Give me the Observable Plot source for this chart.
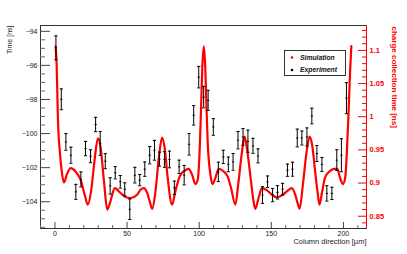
<!DOCTYPE html>
<html><head><meta charset="utf-8">
<script src="https://cdn.jsdelivr.net/npm/d3@7"></script>
<script src="https://cdn.jsdelivr.net/npm/@observablehq/plot@0.6"></script>
<style>body{margin:0;background:#fff}</style>
</head><body><div id="chart"></div>
<script>
// Experiment: time [ns] vs column position [µm]
const expX = [0.7,4.4,7.6,11.1,14.5,18.0,21.2,24.7,28.2,31.4,34.9,38.3,41.8,45.3,48.4,51.9,55.4,58.8,62.3,65.7,69.0,72.5,75.9,79.4,82.8,86.1,89.6,93.0,96.2,99.7,103.1,106.2,109.8,113.3,116.7,120.2,123.5,126.9,130.4,133.8,137.3,140.8,143.9,147.4,150.9,154.3,157.8,161.2,164.7,168.0,171.2,174.7,178.1,181.6,185.1,188.5,192.0,195.4,198.6,202.1];
const expY = [-94.97,-97.99,-100.49,-101.27,-103.42,-102.69,-100.88,-101.33,-99.47,-100.58,-101.62,-103.07,-102.30,-102.83,-103.27,-104.44,-102.44,-102.73,-102.09,-101.27,-100.98,-101.5,-101.52,-101.52,-103.18,-101.95,-102.44,-100.63,-98.93,-96.69,-97.86,-98.05,-99.61,-102.25,-101.37,-101.81,-101.66,-100.39,-100.2,-100.45,-100.72,-101.31,-103.61,-102.83,-103.61,-103.45,-103.26,-102.15,-102.09,-100.26,-100.26,-100.2,-98.97,-101.17,-101.81,-103.51,-103.51,-101.56,-101.27,-97.92];
const expErr = [0.70,0.61,0.49,0.47,0.44,0.44,0.42,0.38,0.42,0.70,0.44,0.48,0.36,0.37,0.38,0.60,0.46,0.33,0.42,0.51,0.58,0.41,0.46,0.49,0.39,0.39,0.57,0.63,0.57,0.63,0.63,0.59,0.49,0.57,0.39,0.43,0.49,0.51,0.49,0.65,0.44,0.41,0.49,0.34,0.39,0.39,0.34,0.36,0.41,0.52,0.41,0.53,0.46,0.47,0.41,0.45,0.36,0.61,0.97,0.91];

// Simulation: charge collection time [ns] vs column position [µm]
const simX = [0.5,1.2,2.1,3.5,4.6,6.2,8.6,10.9,14.3,17.8,20.6,22.8,25.2,27.5,29.8,31.6,33.9,36.3,38.5,41.5,45.5,48.9,52.4,57.0,59.3,61.6,63.9,65.7,67.4,69.7,72.0,74.3,76.1,78.2,81.2,83.5,86.5,89.8,92.7,95.1,97.4,99.0,100.1,101.3,102.2,103.2,104.2,105.1,105.9,107.8,109.3,111.2,113.5,117.0,119.7,122.1,125.1,127.3,129.7,131.5,133.1,135.4,137.7,138.9,141.2,143.5,147.0,150.4,153.9,157.4,160.8,164.3,166.6,168.2,169.6,171.9,174.2,176.5,178.3,180.4,182.0,183.4,185.1,187.3,190.3,193.6,195.8,197.7,199.6,201.2,202.4,203.5,204.6,205.5];
const simT = [1.106,1.0775,0.995,0.945,0.92,0.901,0.915,0.9225,0.9175,0.905,0.8825,0.8675,0.89,0.935,0.9675,0.955,0.905,0.86,0.8725,0.8925,0.885,0.879,0.8775,0.8825,0.89,0.8925,0.8855,0.8725,0.861,0.8875,0.9375,0.9685,0.9525,0.9075,0.8675,0.8875,0.91,0.9185,0.9215,0.9125,0.8985,0.905,0.9375,1.0125,1.076,1.106,1.076,1.0125,0.9625,0.9125,0.8985,0.9075,0.9215,0.9175,0.91,0.8925,0.8675,0.9025,0.9475,0.97,0.9525,0.9125,0.8725,0.861,0.8775,0.8925,0.889,0.8825,0.8785,0.8815,0.8875,0.8925,0.8825,0.87,0.8615,0.8975,0.9425,0.97,0.9575,0.9175,0.8875,0.8675,0.885,0.9085,0.9175,0.9215,0.9215,0.9075,0.8985,0.9075,0.9475,1.0025,1.0675,1.1065];

const xTicks = [0,50,100,150,200];
const leftTicks = [-104,-102,-100,-98,-96,-94];
const rightTicks = [0.85,0.9,0.95,1,1.05,1.1];
const legendLabels = ["Simulation","Experiment"];
const legendColors = ["#ff0000","#000000"];

const xDomain = [-10, 216];
const yDomain = [-105.57, -93.66];
const rDomain = [0.8315, 1.1375];
const R = v => yDomain[0] + (v - rDomain[0]) / (rDomain[1] - rDomain[0]) * (yDomain[1] - yDomain[0]);
const Rinv = y => rDomain[0] + (y - yDomain[0]) / (yDomain[1] - yDomain[0]) * (rDomain[1] - rDomain[0]);

const exp = expX.map((x, i) => ({x, y: expY[i], lo: expY[i] - expErr[i], hi: expY[i] + expErr[i]}));
const sim = simX.map((x, i) => ({x, y: R(simT[i])}));

const xMinor = d3.range(-10, 216, 10).filter(v => v % 50 !== 0);
const leftMinor = d3.range(-105.5, -93.6, 0.5).filter(v => v % 2 !== 0);
const rightMinor = d3.range(84, 114, 1).map(v => v / 100).filter(v => Math.round(v * 100) % 5 !== 0).map(R);

const cap = {draw(ctx) { ctx.moveTo(-1.6, 0); ctx.lineTo(1.6, 0); }};
const mid = {draw(ctx) { ctx.moveTo(-1.1, 0); ctx.lineTo(1.1, 0); }};
const font = "'Liberation Sans', Arial, Helvetica, sans-serif";

const chart = Plot.plot({
  width: 407, height: 254,
  marginLeft: 40, marginRight: 41, marginTop: 25, marginBottom: 26,
  style: {fontFamily: font, fontSize: "7px", background: "white", overflow: "visible"},
  x: {domain: xDomain},
  y: {domain: yDomain},
  marks: [
    Plot.frame({stroke: "#333", strokeWidth: 1}),
    // left axis
    Plot.axisY(leftTicks, {anchor: "left", tickSize: 10, insetLeft: 10, text: null, label: null, stroke: "#444"}),
    Plot.axisY(leftMinor, {anchor: "left", tickSize: 5, insetLeft: 5, text: null, label: null, stroke: "#666"}),
    Plot.axisY(leftTicks, {anchor: "left", tickSize: 0, tickPadding: 3, label: null, fill: "#222", fontSize: 7}),
    // bottom axis
    Plot.axisX(xTicks, {anchor: "bottom", tickSize: 6, insetBottom: 6, text: null, label: null, stroke: "#444"}),
    Plot.axisX(xMinor, {anchor: "bottom", tickSize: 3, insetBottom: 3, text: null, label: null, stroke: "#666"}),
    Plot.axisX(xTicks, {anchor: "bottom", tickSize: 0, tickPadding: 2.5, label: null, fill: "#222", fontSize: 7}),
    // right axis (charge collection time)
    Plot.ruleX([xDomain[1]], {stroke: "#ff0000", strokeWidth: 1}),
    Plot.axisY(rightTicks.map(R), {anchor: "right", tickSize: 9, insetRight: 9, text: null, label: null, stroke: "#ff0000"}),
    Plot.axisY(rightMinor, {anchor: "right", tickSize: 5, insetRight: 5, text: null, label: null, stroke: "#ff0000"}),
    Plot.axisY(rightTicks.map(R), {anchor: "right", tickSize: 0, tickPadding: 3, label: null,
      tickFormat: d => String(Math.round(Rinv(d) * 100) / 100), fill: "#ff0000", fontWeight: "bold", fontSize: 7.5}),
    // simulation curve
    Plot.line(sim, {x: "x", y: "y", stroke: "#ff0000", strokeWidth: 2.2, curve: "monotone-x"}),
    // experiment with error bars
    Plot.ruleX(exp, {x: "x", y1: "lo", y2: "hi", stroke: "#000", strokeWidth: 1}),
    Plot.dot(exp, {x: "x", y: "lo", symbol: cap, stroke: "#000", strokeWidth: 1, r: 2}),
    Plot.dot(exp, {x: "x", y: "hi", symbol: cap, stroke: "#000", strokeWidth: 1, r: 2}),
    Plot.dot(exp, {x: "x", y: "y", symbol: mid, stroke: "#000", strokeWidth: 1, r: 2}),
    // axis titles
    Plot.text(["Time [ns]"], {frameAnchor: "top-left", dx: -33, dy: 0, rotate: -90, textAnchor: "end", fill: "#222", fontSize: 7}),
    Plot.text(["charge collection time [ns]"], {frameAnchor: "top-right", dx: 31, dy: 1, rotate: 90, textAnchor: "start", fill: "#ff0000", fontWeight: "bold", fontSize: 8}),
    Plot.text(["Column direction [µm]"], {frameAnchor: "bottom-right", dy: 15, textAnchor: "end", fill: "#222", fontSize: 7.5})
  ]
});

// legend box (ROOT TLegend style)
const svg = d3.select(chart);
const lg = svg.append("g").attr("font-family", font).attr("text-anchor", "start");
lg.append("rect").attr("x", 284.5).attr("y", 50.5).attr("width", 61).attr("height", 25)
  .attr("fill", "white").attr("stroke", "#333").attr("stroke-width", 1);
legendLabels.forEach((t, i) => {
  const y = 57.5 + i * 12.5;
  lg.append("circle").attr("cx", 292).attr("cy", y).attr("r", 1.3).attr("fill", legendColors[i]);
  lg.append("text").attr("x", 300).attr("y", y).attr("dy", "0.35em").attr("text-anchor", "start")
    .attr("font-size", 6.8).attr("font-weight", "bold").attr("font-style", "italic").attr("fill", "#111").text(t);
});

document.getElementById("chart").appendChild(chart);
</script>
</body></html>
